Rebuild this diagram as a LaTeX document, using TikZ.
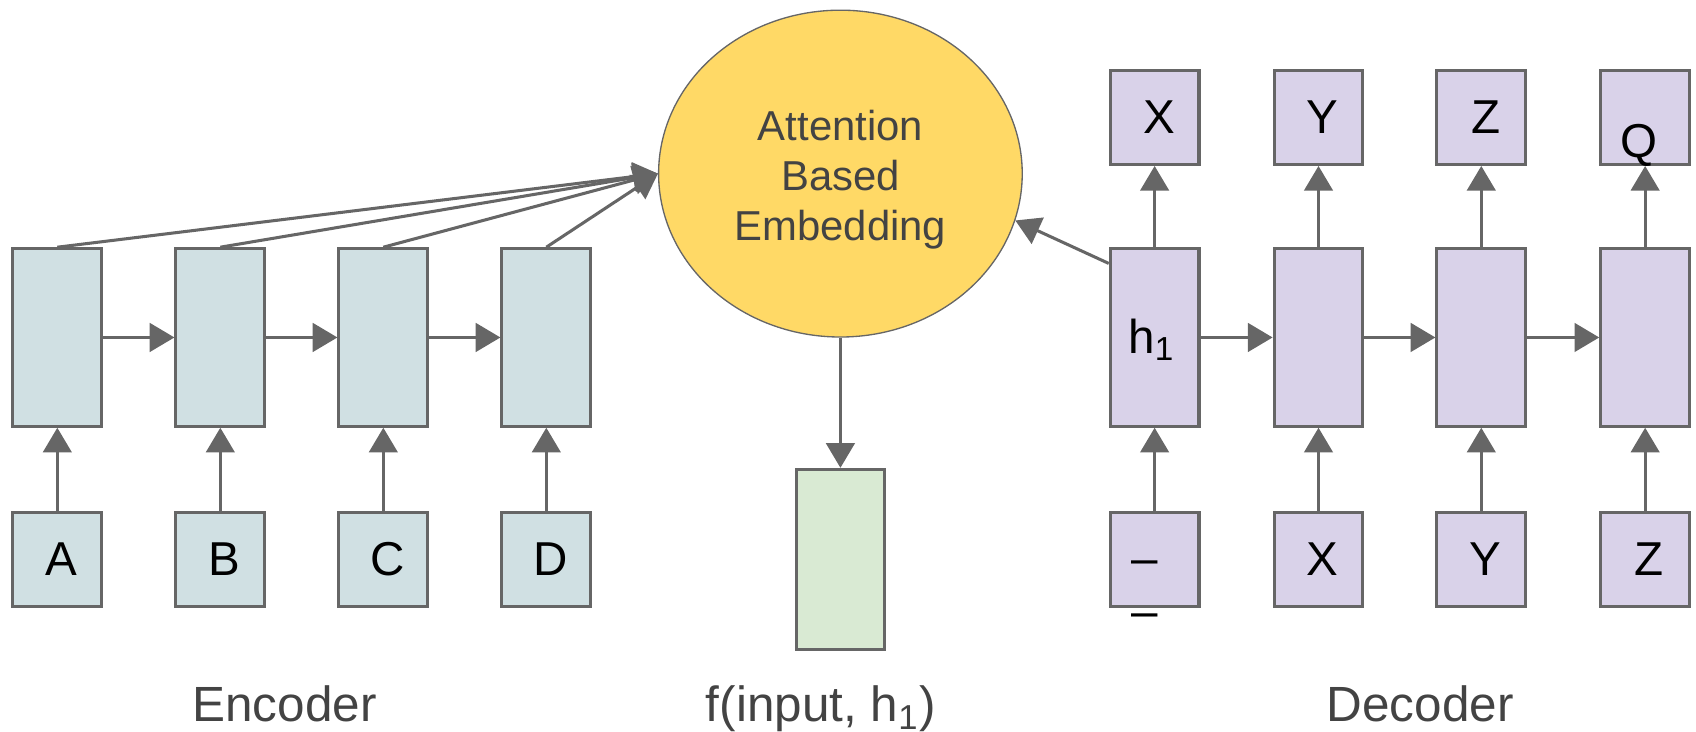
\documentclass[tikz,border=0pt]{standalone}
\usepackage{fontspec}
\setmainfont{Liberation Sans}
\usetikzlibrary{arrows.meta}
\usetikzlibrary{shapes.geometric}

\definecolor{encfill}{HTML}{D0E0E3}
\definecolor{decfill}{HTML}{D9D2E9}
\definecolor{outfill}{HTML}{D9EAD3}
\definecolor{attfill}{HTML}{FFD966}
\definecolor{edgegray}{HTML}{666666}
\definecolor{txtgray}{HTML}{434343}

\tikzset{
 cell/.style={draw=edgegray, line width=0.8pt, minimum width=0.82cm, inner sep=0pt, font=\fontsize{12.5}{15}\selectfont},
 hid/.style={cell, minimum height=1.64cm},
 tok/.style={cell, minimum height=0.87cm},
 arr/.style={draw=edgegray, line width=0.8pt, -{Triangle[length=6.5pt,width=7.5pt]}},
 caption/.style={anchor=base, text=txtgray, font=\fontsize{13}{15}\selectfont},
}

\begin{document}
\begin{tikzpicture}[x=0.01cm, y=-0.01cm]
\useasboundingbox (0,0) rectangle (1568,676);
% encoder
\foreach \i/\x/\t in {1/53/A, 2/203.7/B, 3/354.4/C, 4/505.1/D} {
 \node[hid, fill=encfill] (e\i) at (\x,312) {};
 \node[tok, fill=encfill] (ein\i) at (\x,517) {\hspace*{0.08cm}\t};
}
% decoder
\foreach \i/\x/\o/\n in {1/1067.5/X/, 2/1219/Y/X, 3/1369.5/Z/Y, 4/1521//Z} {
 \node[hid, fill=decfill] (d\i) at (\x,312) {};
 \node[tok, fill=decfill] (dout\i) at (\x,108.5) {\hspace*{0.08cm}\o};
 \node[tok, fill=decfill] (din\i) at (\x,517) {\hspace*{0.08cm}\n};
}
\node[font=\fontsize{12.5}{15}\selectfont] (hlab) at (1065,314) {h\textsubscript{1}};
\node[font=\fontsize{12.5}{15}\selectfont] (qlab) at (1515,134) {Q};
\node[font=\fontsize{12.5}{15}\selectfont] (dash) at (1058,525) {–};
\node[font=\fontsize{12.5}{15}\selectfont] (dunder) at (1058,574) {–};

% attention
\node[ellipse, draw=edgegray, line width=0.35pt, fill=attfill, minimum width=3.36cm, minimum height=3.02cm,
 inner sep=0pt] (att) at (777,160.5) {};
\node[align=center, text=txtgray, font=\fontsize{11}{13.2}\selectfont] (attlab) at (777,166)
 {Attention\\Based\\Embedding};
\node[cell, fill=outfill, minimum height=1.66cm] (fout) at (777,517) {};

\foreach \i in {1,...,4} {
 \draw[arr] (ein\i) -- (e\i);
 \draw[arr] (e\i.north) -- (att.west);
 \draw[arr] (din\i) -- (d\i);
 \draw[arr] (d\i) -- (dout\i);
}
\foreach \i/\j in {1/2, 2/3, 3/4} {
 \draw[arr] (e\i) -- (e\j);
 \draw[arr] (d\i) -- (d\j);
}
\draw[arr] (att) -- (fout);
\draw[arr] ([yshift=-0.15cm]d1.north west) -- (att.-15);

\node[caption] (enclab) at (263,666.6) {Encoder};
\node[caption] (flab) at (759,666.6) {f(input, h\textsubscript{1})};
\node[caption] (declab) at (1313,666.6) {Decoder};
\end{tikzpicture}
\end{document}
